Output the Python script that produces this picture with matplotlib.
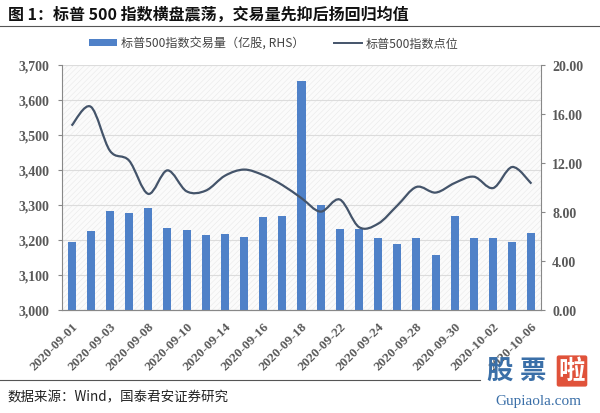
import matplotlib
matplotlib.use("Agg")
import matplotlib.pyplot as plt
import numpy as np
from matplotlib.path import Path
from matplotlib.patches import PathPatch, Rectangle
from matplotlib.lines import Line2D
from matplotlib.patches import Patch
from matplotlib.transforms import blended_transform_factory

plt.rcParams['font.family'] = ['Noto Sans CJK SC', 'DejaVu Sans']
plt.rcParams['hatch.linewidth'] = 0.4

dates = ["2020-09-01", "2020-09-02", "2020-09-03", "2020-09-04", "2020-09-08", "2020-09-09",
         "2020-09-10", "2020-09-11", "2020-09-14", "2020-09-15", "2020-09-16", "2020-09-17",
         "2020-09-18", "2020-09-21", "2020-09-22", "2020-09-23", "2020-09-24", "2020-09-25",
         "2020-09-28", "2020-09-29", "2020-09-30", "2020-10-01", "2020-10-02", "2020-10-05",
         "2020-10-06"]
index_level = [3526.65, 3580.84, 3455.06, 3426.96, 3331.84, 3398.96, 3339.19, 3340.97,
               3383.54, 3401.20, 3385.49, 3357.01, 3319.47, 3281.06, 3315.57, 3236.92,
               3246.59, 3298.46, 3351.60, 3335.47, 3363.00, 3380.80, 3348.42, 3408.60,
               3360.97]
volume = [5.53, 6.48, 8.11, 7.89, 8.33, 6.72, 6.53, 6.10, 6.23, 5.96, 7.57, 7.70,
          18.67, 8.60, 6.61, 6.61, 5.90, 5.41, 5.90, 4.52, 7.70, 5.85, 5.85, 5.55, 6.26]

bar_label = "标普500指数交易量（亿股, RHS）"
line_label = "标普500指数点位"
title = "图 1：标普 500 指数横盘震荡，交易量先抑后扬回归均值"
source = "数据来源：Wind，国泰君安证券研究"

bar_color = "#4F81C8"
line_color = "#44546A"
tick_color = "#595959"
serif = ['Liberation Serif', 'Noto Sans CJK SC']

fig = plt.figure(figsize=(6, 4.14), dpi=100)
W, H = 600, 414
L, R, T, B = 62, 541, 66, 311
ax = fig.add_axes([L / W, 1 - B / H, (R - L) / W, (B - T) / H])
ax2 = ax.twinx()
ax.set_zorder(ax2.get_zorder() + 1)
ax.patch.set_visible(False)

x = np.arange(len(dates))

# background hatch
ax2.add_patch(Rectangle((0, 0), 1, 1, transform=ax2.transAxes, facecolor="#fbfbfb",
                        edgecolor="#e9e9e9", hatch="//////", lw=0, zorder=0))
ax2.bar(x, volume, width=0.42, color=bar_color, zorder=3)
ax2.set_ylim(0, 20)
ax2.set_yticks(np.arange(0, 20.01, 4))
ax2.set_yticklabels([f"{v:.2f}" for v in np.arange(0, 20.01, 4)])

ax.set_ylim(3000, 3700)
ax.set_yticks(np.arange(3000, 3701, 100))
ax.set_yticklabels([f"{v:,}" for v in range(3000, 3701, 100)])
ax.set_xlim(-0.5, len(dates) - 0.5)

# gridlines behind bars
tr = blended_transform_factory(ax2.transAxes, ax.transData)
for v in range(3100, 3701, 100):
    ax2.plot([0, 1], [v, v], transform=tr, color="#dcdcdc", lw=0.8, zorder=1)

# smoothed line (Bezier through data points)
pts = np.column_stack([x, index_level]).astype(float)
ext = np.vstack([pts[0], pts, pts[-1]])
verts = [tuple(pts[0])]
codes = [Path.MOVETO]
for i in range(len(pts) - 1):
    p0, p1, p2, p3 = ext[i], ext[i + 1], ext[i + 2], ext[i + 3]
    c1 = p1 + (p2 - p0) / 6
    c2 = p2 - (p3 - p1) / 6
    verts += [tuple(c1), tuple(c2), tuple(p2)]
    codes += [Path.CURVE4] * 3
ax.add_patch(PathPatch(Path(verts, codes), facecolor="none", edgecolor=line_color, lw=1.6, zorder=4))

ax.set_xticks(x[::2])
ax.set_xticklabels(dates[::2], rotation=45, ha="right", rotation_mode="anchor",
                   family=serif, fontweight="bold", fontsize=9.5, color=tick_color)
ax.tick_params(axis='x', length=0, pad=7)
ax.tick_params(axis='y', length=3, color="#888888", labelsize=10, labelcolor=tick_color, pad=6)
ax2.tick_params(axis='y', length=3, color="#888888", labelsize=10, labelcolor=tick_color, pad=5)
for lab in ax.get_yticklabels() + ax2.get_yticklabels():
    lab.set_family(serif)
    lab.set_fontweight("bold")

for a in (ax, ax2):
    a.spines['top'].set_visible(False)
    for s in ('left', 'right', 'bottom'):
        a.spines[s].set_color("#888888")
        a.spines[s].set_linewidth(0.8)
ax.spines['right'].set_visible(False)
ax2.spines['left'].set_visible(False)

# title and rules
fig.text(8 / W, 1 - 15 / H, title, fontsize=11.5, fontweight="bold", va="center", ha="left", color="#111111")
fig.add_artist(Line2D([0, 1], [1 - 27 / H, 1 - 27 / H], color="#555555", lw=0.8))
fig.add_artist(Line2D([0, 480 / W], [1 - 381 / H, 1 - 381 / H], color="#555555", lw=0.8))
fig.text(8 / W, 1 - 397 / H, source, fontsize=9.7, va="center", ha="left", color="#222222")

# legend
handles = [Patch(facecolor=bar_color, edgecolor="none"), Line2D([0], [0], color=line_color, lw=1.4)]
leg = fig.legend(handles, [bar_label, line_label], loc="center", bbox_to_anchor=(274 / W, 1 - 44 / H),
                 ncol=2, frameon=False, fontsize=8.7, handlelength=2.3, handleheight=0.5,
                 columnspacing=2.5, handletextpad=0.3)
for t in leg.get_texts():
    t.set_color("#444444")

# watermark
fig.text(499 / W, 1 - 372 / H, "股", fontsize=19, fontweight="bold", color="#3a6fa8", va="center", ha="center")
fig.text(533 / W, 1 - 372 / H, "票", fontsize=19, fontweight="bold", color="#3a6fa8", va="center", ha="center")
fig.text(572 / W, 1 - 372 / H, "啦", fontsize=19, fontweight="bold", color="white", va="center", ha="center",
         bbox=dict(boxstyle="round,pad=0.08", facecolor="#e0523a", edgecolor="none"))
fig.text(538 / W, 1 - 402 / H, "Gupiaola.com", fontsize=11, color="#3a6fa8", va="center", ha="center",
         family=serif)

fig.savefig("out.png", dpi=100)
